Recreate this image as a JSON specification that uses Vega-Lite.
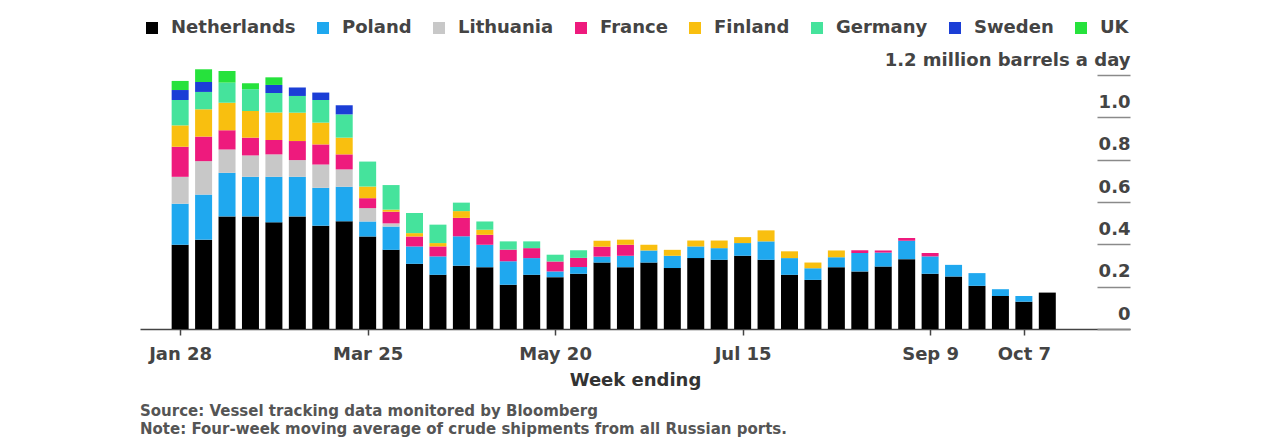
{
  "$schema": "https://vega.github.io/schema/vega-lite/v6.json",
  "width": 990,
  "height": 254,
  "autosize": {"type": "none"},
  "padding": {"left": 140, "top": 75, "right": 151, "bottom": 119},
  "background": "white",
  "config": {"view": {"stroke": null}, "font": "DejaVu Sans"},
  "data": {
    "values": [
      {"date": "2022-01-28", "Netherlands": 0.398, "Poland": 0.194, "Lithuania": 0.127, "France": 0.142, "Finland": 0.101, "Germany": 0.120, "Sweden": 0.047, "UK": 0.043},
      {"date": "2022-02-04", "Netherlands": 0.422, "Poland": 0.213, "Lithuania": 0.158, "France": 0.116, "Finland": 0.129, "Germany": 0.082, "Sweden": 0.047, "UK": 0.060},
      {"date": "2022-02-11", "Netherlands": 0.532, "Poland": 0.206, "Lithuania": 0.110, "France": 0.091, "Finland": 0.130, "Germany": 0.095, "Sweden": 0.0, "UK": 0.055},
      {"date": "2022-02-18", "Netherlands": 0.532, "Poland": 0.187, "Lithuania": 0.101, "France": 0.084, "Finland": 0.126, "Germany": 0.103, "Sweden": 0.0, "UK": 0.028},
      {"date": "2022-02-25", "Netherlands": 0.504, "Poland": 0.215, "Lithuania": 0.106, "France": 0.068, "Finland": 0.130, "Germany": 0.092, "Sweden": 0.038, "UK": 0.036},
      {"date": "2022-03-04", "Netherlands": 0.532, "Poland": 0.187, "Lithuania": 0.079, "France": 0.090, "Finland": 0.134, "Germany": 0.079, "Sweden": 0.040, "UK": 0.0},
      {"date": "2022-03-11", "Netherlands": 0.488, "Poland": 0.179, "Lithuania": 0.110, "France": 0.095, "Finland": 0.103, "Germany": 0.107, "Sweden": 0.035, "UK": 0.0},
      {"date": "2022-03-18", "Netherlands": 0.509, "Poland": 0.163, "Lithuania": 0.082, "France": 0.071, "Finland": 0.079, "Germany": 0.110, "Sweden": 0.043, "UK": 0.0},
      {"date": "2022-03-25", "Netherlands": 0.437, "Poland": 0.071, "Lithuania": 0.063, "France": 0.047, "Finland": 0.055, "Germany": 0.118, "Sweden": 0.0, "UK": 0.0},
      {"date": "2022-04-01", "Netherlands": 0.374, "Poland": 0.110, "Lithuania": 0.015, "France": 0.055, "Finland": 0.010, "Germany": 0.116, "Sweden": 0.0, "UK": 0.0},
      {"date": "2022-04-08", "Netherlands": 0.308, "Poland": 0.082, "Lithuania": 0.0, "France": 0.047, "Finland": 0.016, "Germany": 0.095, "Sweden": 0.0, "UK": 0.0},
      {"date": "2022-04-15", "Netherlands": 0.256, "Poland": 0.087, "Lithuania": 0.0, "France": 0.047, "Finland": 0.016, "Germany": 0.087, "Sweden": 0.0, "UK": 0.0},
      {"date": "2022-04-22", "Netherlands": 0.299, "Poland": 0.139, "Lithuania": 0.0, "France": 0.087, "Finland": 0.032, "Germany": 0.040, "Sweden": 0.0, "UK": 0.0},
      {"date": "2022-04-29", "Netherlands": 0.292, "Poland": 0.106, "Lithuania": 0.0, "France": 0.047, "Finland": 0.024, "Germany": 0.039, "Sweden": 0.0, "UK": 0.0},
      {"date": "2022-05-06", "Netherlands": 0.209, "Poland": 0.111, "Lithuania": 0.0, "France": 0.055, "Finland": 0.0, "Germany": 0.039, "Sweden": 0.0, "UK": 0.0},
      {"date": "2022-05-13", "Netherlands": 0.256, "Poland": 0.079, "Lithuania": 0.0, "France": 0.047, "Finland": 0.0, "Germany": 0.032, "Sweden": 0.0, "UK": 0.0},
      {"date": "2022-05-20", "Netherlands": 0.245, "Poland": 0.027, "Lithuania": 0.0, "France": 0.047, "Finland": 0.0, "Germany": 0.032, "Sweden": 0.0, "UK": 0.0},
      {"date": "2022-05-27", "Netherlands": 0.261, "Poland": 0.032, "Lithuania": 0.0, "France": 0.043, "Finland": 0.0, "Germany": 0.036, "Sweden": 0.0, "UK": 0.0},
      {"date": "2022-06-03", "Netherlands": 0.314, "Poland": 0.028, "Lithuania": 0.0, "France": 0.047, "Finland": 0.028, "Germany": 0.0, "Sweden": 0.0, "UK": 0.0},
      {"date": "2022-06-10", "Netherlands": 0.292, "Poland": 0.054, "Lithuania": 0.0, "France": 0.052, "Finland": 0.024, "Germany": 0.0, "Sweden": 0.0, "UK": 0.0},
      {"date": "2022-06-17", "Netherlands": 0.314, "Poland": 0.057, "Lithuania": 0.0, "France": 0.0, "Finland": 0.027, "Germany": 0.0, "Sweden": 0.0, "UK": 0.0},
      {"date": "2022-06-24", "Netherlands": 0.288, "Poland": 0.058, "Lithuania": 0.0, "France": 0.0, "Finland": 0.028, "Germany": 0.0, "Sweden": 0.0, "UK": 0.0},
      {"date": "2022-07-01", "Netherlands": 0.335, "Poland": 0.055, "Lithuania": 0.0, "France": 0.0, "Finland": 0.028, "Germany": 0.0, "Sweden": 0.0, "UK": 0.0},
      {"date": "2022-07-08", "Netherlands": 0.327, "Poland": 0.055, "Lithuania": 0.0, "France": 0.0, "Finland": 0.036, "Germany": 0.0, "Sweden": 0.0, "UK": 0.0},
      {"date": "2022-07-15", "Netherlands": 0.346, "Poland": 0.060, "Lithuania": 0.0, "France": 0.0, "Finland": 0.028, "Germany": 0.0, "Sweden": 0.0, "UK": 0.0},
      {"date": "2022-07-22", "Netherlands": 0.327, "Poland": 0.087, "Lithuania": 0.0, "France": 0.0, "Finland": 0.052, "Germany": 0.0, "Sweden": 0.0, "UK": 0.0},
      {"date": "2022-07-29", "Netherlands": 0.256, "Poland": 0.079, "Lithuania": 0.0, "France": 0.0, "Finland": 0.032, "Germany": 0.0, "Sweden": 0.0, "UK": 0.0},
      {"date": "2022-08-05", "Netherlands": 0.232, "Poland": 0.055, "Lithuania": 0.0, "France": 0.0, "Finland": 0.027, "Germany": 0.0, "Sweden": 0.0, "UK": 0.0},
      {"date": "2022-08-12", "Netherlands": 0.292, "Poland": 0.047, "Lithuania": 0.0, "France": 0.0, "Finland": 0.032, "Germany": 0.0, "Sweden": 0.0, "UK": 0.0},
      {"date": "2022-08-19", "Netherlands": 0.272, "Poland": 0.087, "Lithuania": 0.0, "France": 0.013, "Finland": 0.0, "Germany": 0.0, "Sweden": 0.0, "UK": 0.0},
      {"date": "2022-08-26", "Netherlands": 0.295, "Poland": 0.066, "Lithuania": 0.0, "France": 0.010, "Finland": 0.0, "Germany": 0.0, "Sweden": 0.0, "UK": 0.0},
      {"date": "2022-09-02", "Netherlands": 0.330, "Poland": 0.087, "Lithuania": 0.0, "France": 0.013, "Finland": 0.0, "Germany": 0.0, "Sweden": 0.0, "UK": 0.0},
      {"date": "2022-09-09", "Netherlands": 0.261, "Poland": 0.082, "Lithuania": 0.0, "France": 0.016, "Finland": 0.0, "Germany": 0.0, "Sweden": 0.0, "UK": 0.0},
      {"date": "2022-09-16", "Netherlands": 0.248, "Poland": 0.055, "Lithuania": 0.0, "France": 0.0, "Finland": 0.0, "Germany": 0.0, "Sweden": 0.0, "UK": 0.0},
      {"date": "2022-09-23", "Netherlands": 0.204, "Poland": 0.060, "Lithuania": 0.0, "France": 0.0, "Finland": 0.0, "Germany": 0.0, "Sweden": 0.0, "UK": 0.0},
      {"date": "2022-09-30", "Netherlands": 0.156, "Poland": 0.032, "Lithuania": 0.0, "France": 0.0, "Finland": 0.0, "Germany": 0.0, "Sweden": 0.0, "UK": 0.0},
      {"date": "2022-10-07", "Netherlands": 0.129, "Poland": 0.027, "Lithuania": 0.0, "France": 0.0, "Finland": 0.0, "Germany": 0.0, "Sweden": 0.0, "UK": 0.0},
      {"date": "2022-10-14", "Netherlands": 0.172, "Poland": 0.0, "Lithuania": 0.0, "France": 0.0, "Finland": 0.0, "Germany": 0.0, "Sweden": 0.0, "UK": 0.0}
    ]
  },
  "transform": [
    {"fold": ["Netherlands", "Poland", "Lithuania", "France", "Finland", "Germany", "Sweden", "UK"], "as": ["country", "mbd"]},
    {"window": [{"op": "row_number", "as": "stackOrder"}], "groupby": ["date"]}
  ],
  "mark": {"type": "bar", "width": 17},
  "encoding": {
    "x": {
      "field": "date",
      "type": "temporal",
      "scale": {
        "type": "utc",
        "nice": false,
        "domain": [
          {"year": 2022, "month": 1, "date": 17, "hours": 12, "utc": true},
          {"year": 2022, "month": 11, "date": 6, "hours": 5, "utc": true}
        ]
      },
      "axis": {
        "values": [
          {"year": 2022, "month": 1, "date": 28, "utc": true},
          {"year": 2022, "month": 3, "date": 25, "utc": true},
          {"year": 2022, "month": 5, "date": 20, "utc": true},
          {"year": 2022, "month": 7, "date": 15, "utc": true},
          {"year": 2022, "month": 9, "date": 9, "utc": true},
          {"year": 2022, "month": 10, "date": 7, "utc": true}
        ],
        "format": "%b %-d",
        "labelAngle": 0,
        "grid": false,
        "tickSize": 6,
        "tickColor": "#444444",
        "tickWidth": 1.5,
        "domainColor": "#444444",
        "domainWidth": 1.5,
        "labelFont": "DejaVu Sans",
        "labelFontWeight": "bold",
        "labelFontSize": 18,
        "labelColor": "#444444",
        "labelPadding": 10,
        "labelFlush": false,
        "labelOverlap": false,
        "title": "Week ending",
        "titleFont": "DejaVu Sans",
        "titleFontWeight": "bold",
        "titleFontSize": 18,
        "titleColor": "#333333",
        "titlePadding": 8
      }
    },
    "y": {
      "field": "mbd",
      "type": "quantitative",
      "stack": "zero",
      "scale": {"domain": [0, 1.2], "nice": false},
      "axis": {
        "orient": "right",
        "offset": -33,
        "values": [0, 0.2, 0.4, 0.6, 0.8, 1.0, 1.2],
        "grid": false,
        "domain": false,
        "ticks": true,
        "tickSize": 33,
        "tickColor": "#8a8a8a",
        "tickWidth": 1.5,
        "labelAlign": "right",
        "labelBaseline": "alphabetic",
        "labelOffset": -10,
        "labelPadding": 0,
        "labelFont": "DejaVu Sans",
        "labelFontWeight": "bold",
        "labelFontSize": 18,
        "labelColor": "#444444",
        "labelFlush": false,
        "labelOverlap": false,
        "labelLimit": 400,
        "labelExpr": "datum.value == 0 ? '0' : (datum.value > 1.1 ? '1.2 million barrels a day' : format(datum.value, '.1f'))",
        "title": null
      }
    },
    "order": {"field": "stackOrder", "type": "quantitative", "sort": "ascending"},
    "color": {
      "field": "country",
      "type": "nominal",
      "scale": {
        "domain": ["Netherlands", "Poland", "Lithuania", "France", "Finland", "Germany", "Sweden", "UK"],
        "range": ["#000000", "#1fa8ef", "#c8c8c8", "#ee1a7d", "#f9bf0f", "#45e39c", "#1b3ed6", "#26e23c"]
      },
      "legend": {
        "orient": "none",
        "legendX": 3,
        "legendY": -56,
        "direction": "horizontal",
        "title": null,
        "symbolType": "square",
        "symbolSize": 144,
        "symbolStrokeWidth": 0,
        "symbolOpacity": 1,
        "labelFont": "DejaVu Sans",
        "labelFontWeight": "bold",
        "labelFontSize": 18,
        "labelColor": "#444444",
        "labelOffset": 10,
        "labelLimit": 300,
        "columnPadding": 18
      }
    }
  },
  "title": {
    "text": ["Source: Vessel tracking data monitored by Bloomberg", "Note: Four-week moving average of crude shipments from all Russian ports."],
    "orient": "bottom",
    "anchor": "start",
    "frame": "group",
    "font": "DejaVu Sans",
    "fontSize": 15,
    "fontWeight": "bold",
    "color": "#555555",
    "lineHeight": 18,
    "offset": 15
  }
}
